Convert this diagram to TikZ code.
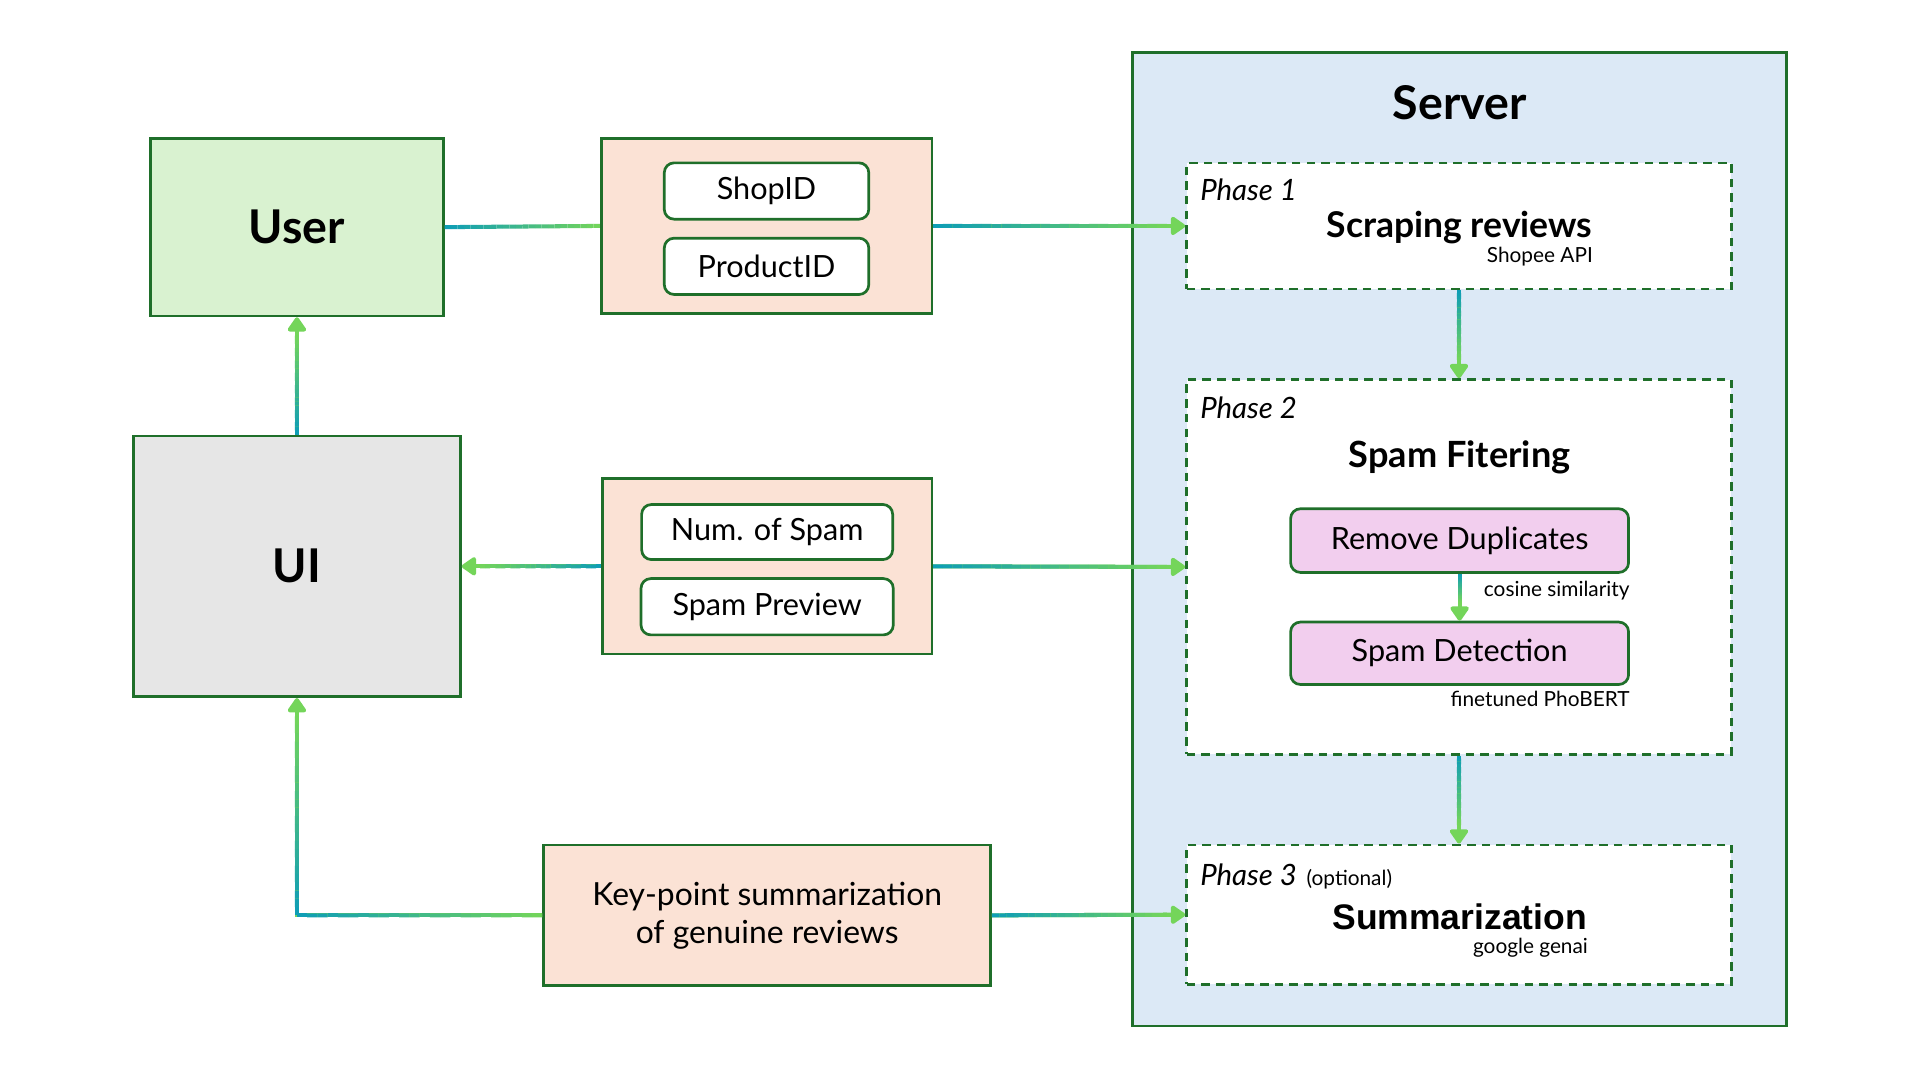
\documentclass[tikz,border=0pt]{standalone}
\usepackage{fontspec}
\setmainfont{Lato}
\newfontfamily\arialfont{Liberation Sans}
\usetikzlibrary{arrows.meta,calc}
\definecolor{dkgreen}{HTML}{1F6F2A}
\definecolor{userfill}{HTML}{D9F2D0}
\definecolor{peach}{HTML}{FBE2D5}
\definecolor{uigray}{HTML}{E6E6E6}
\definecolor{serverblue}{HTML}{DCE9F6}
\definecolor{pinkfill}{HTML}{F2CEEE}
\definecolor{cteal}{HTML}{0C9CB8}
\definecolor{cgreen}{HTML}{74D55A}

% colour fade along a straight connector, teal at #1, green towards #2
\newcommand\fadeline[3]{%
  \coordinate (fadeend) at ($(#2)!#3!(#1)$);
  \foreach \k in {1,...,24}{%
    \pgfmathsetmacro\ta{(\k-1)/24}%
    \pgfmathsetmacro\tb{\k/24}%
    \pgfmathtruncatemacro\mix{100-100*(\k-0.5)/24}%
    \draw[connline,draw=cteal!\mix!cgreen] ($(#1)!\ta!(fadeend)$) -- ($(#1)!\tb!(fadeend)$);
  }}

\begin{document}
\begin{tikzpicture}[x=1pt,y=-1pt,every node/.style={inner sep=0pt},solidbox/.style={draw=dkgreen,line width=2.2pt},field/.style={solidbox,rounded corners=8pt,fill=white,font=\fontsize{25}{30}\selectfont},phase/.style={draw=dkgreen,line width=2.2pt,dash pattern=on 7pt off 5pt,fill=white,minimum width=445pt},phaselbl/.style={anchor=base west,font=\itshape\fontsize{24}{28}\selectfont},step2box/.style={solidbox,rounded corners=8pt,fill=pinkfill,minimum width=276pt,font=\fontsize{25}{30}\selectfont},arr/.style={line width=3.3pt,draw=cgreen,-{Triangle[length=13pt,width=17pt,round,fill=cgreen]}},connline/.style={line width=3.3pt},small/.style={font=\fontsize{17}{20}\selectfont}]
\useasboundingbox (0,0) rectangle (1568,882);
\fill[white] (0,0) rectangle (1568,882);
% server side
\node[solidbox,fill=serverblue,minimum width=534pt,minimum height=795pt] (server) at (1192,440.5) {};
\node[anchor=base,font=\bfseries\fontsize{38}{44}\selectfont] (srvtitle) at (1192,98) {Server};
\node[phase,minimum height=103pt] (ph1) at (1191.5,184.5) {};
\node[phase,minimum height=306pt] (ph2) at (1191.5,463) {};
\node[phase,minimum height=114pt] (ph3) at (1191.5,747) {};
\node[phaselbl] (ph1lbl) at (980,164) {Phase 1};
\node[anchor=base,font=\bfseries\fontsize{29}{34}\selectfont] (scrape) at (1192,194) {Scraping reviews};
\node[anchor=base east,small] (shopee) at (1301,214) {Shopee API};
\node[phaselbl] (ph2lbl) at (980,342) {Phase 2};
\node[anchor=base,font=\bfseries\fontsize{29.5}{34}\selectfont] (spamf) at (1192,382) {Spam Fitering};
\node[step2box,minimum height=52pt] (dup) at (1192,441.5) {Remove Duplicates};
\node[step2box,minimum height=51pt] (det) at (1192,533.5) {Spam Detection};
\node[anchor=base east,small] (cosine) at (1331,487) {cosine similarity};
\node[anchor=base east,small] (phobert) at (1331,577) {finetuned PhoBERT};
\node[phaselbl] (ph3lbl) at (980,723) {Phase 3\hspace{8pt}{\upshape\fontsize{17}{20}\selectfont(optional)}};
\node[anchor=base,font=\arialfont\bfseries\fontsize{29}{34}\selectfont] (summ) at (1192,759) {Summarization};
\node[anchor=base east,small] (genai) at (1297,779) {google genai};
% client side
\node[solidbox,fill=userfill,minimum width=239pt,minimum height=145pt,font=\bfseries\fontsize{38}{44}\selectfont] (user) at (242.5,185.5) {User};
\node[solidbox,fill=uigray,minimum width=267pt,minimum height=213pt,font=\bfseries\fontsize{38}{44}\selectfont] (ui) at (242.5,462.5) {UI};
\node[solidbox,fill=peach,minimum width=270pt,minimum height=143pt] (ids) at (626,184.5) {};
\node[field,minimum width=167pt,minimum height=46pt] (shopid) at (626,156) {ShopID};
\node[field,minimum width=167pt,minimum height=46pt] (prodid) at (626,217.5) {ProductID};
\node[solidbox,fill=peach,minimum width=269pt,minimum height=143pt] (spamout) at (626.5,462.5) {};
\node[field,minimum width=205pt,minimum height=45pt] (numspam) at (626.5,434.5) {Num. of Spam};
\node[field,minimum width=206pt,minimum height=46pt] (preview) at (626.5,495.5) {Spam Preview};
\node[solidbox,fill=peach,minimum width=365pt,minimum height=115pt,align=center,font=\fontsize{26}{31}\selectfont] (kp) at (626.5,747.5) {Key-point summarization\\of genuine reviews};
% connectors
\fadeline{user.east}{ids.west}{0pt}
\draw[arr] (ids.east) -- (ph1.west);\fadeline{ids.east}{ph1.west}{15pt}
\draw[arr] (ui.north) -- (user.south);\fadeline{ui.north}{user.south}{15pt}
\draw[arr] (spamout.west) -- (ui.east);\fadeline{spamout.west}{ui.east}{15pt}
\draw[arr] (spamout.east) -- (ph2.west);\fadeline{spamout.east}{ph2.west}{15pt}
\draw[arr] (kp.east) -- (ph3.west);\fadeline{kp.east}{ph3.west}{15pt}
\coordinate (kpbend) at (kp.west -| ui.south);
\draw[arr] (kp.west) -- (kpbend) -- (ui.south);
\fadeline{kpbend}{kp.west}{0pt}
\fadeline{kpbend}{ui.south}{15pt}
\draw[arr] (ph1.south) -- (ph2.north);\fadeline{ph1.south}{ph2.north}{15pt}
\draw[arr] (ph2.south) -- (ph3.north);\fadeline{ph2.south}{ph3.north}{15pt}
\draw[arr] (dup.south) -- (det.north);\fadeline{dup.south}{det.north}{15pt}
\end{tikzpicture}
\end{document}
